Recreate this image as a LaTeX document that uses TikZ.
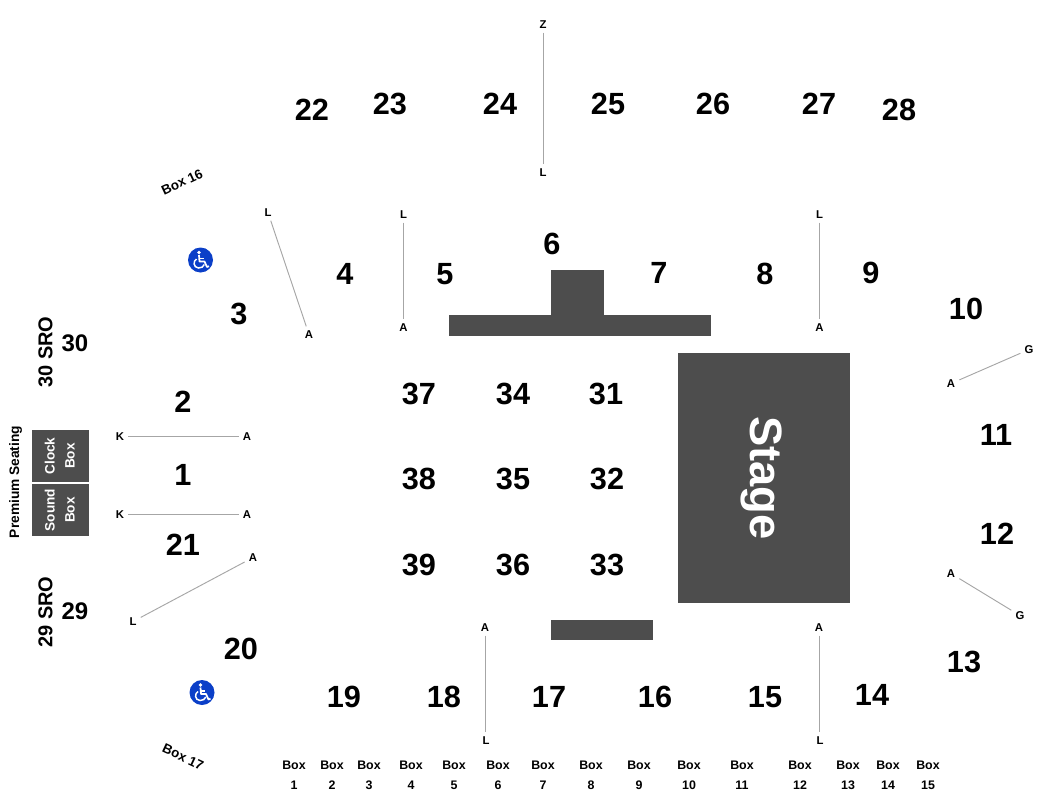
\documentclass[tikz,border=0pt]{standalone}
\usepackage{fontspec}
\setmainfont{Liberation Sans}
\begin{document}
\begin{tikzpicture}[x=0.75pt,y=-0.75pt,
sec/.style={font=\fontsize{23}{23}\selectfont\bfseries,inner sep=0pt},
row/.style={font=\fontsize{8.5}{9}\selectfont\bfseries,inner sep=3pt,yshift=-0.4pt},
boxlbl/.style={font=\fontsize{9.3}{14.8}\selectfont\bfseries,align=center,inner sep=0pt},
sro/.style={font=\fontsize{15}{15}\selectfont\bfseries,rotate=90,inner sep=0pt},
block/.style={draw=none,fill=blockgray,rectangle,inner sep=0pt},
boxtxt/.style={font=\fontsize{10.2}{15}\selectfont\bfseries,text=white,align=center,rotate=90,inner sep=0pt},
aisle/.style={draw=aislegray,line width=0.7pt},
wheel/.pic={
	\fill[wheelblue] (0,0) circle[radius=12.5];
	\fill[white] (-1.5,-7.5) circle[radius=1.9];
	\draw[white,line width=1.3pt,line join=round] (-1.5,-5) -- (-1,1.5) -- (4,1.5) -- (6.5,7) -- (8.5,6.2);
	\draw[white,line width=1.1pt] (-1.3,-1.5) -- (3.2,-1.5);
	\draw[white,line width=1.1pt] (-4,-1) .. controls (-7.5,1) and (-7.5,7.5) .. (-2,8) .. controls (1,8.2) and (3,6.5) .. (3.8,4.5);
}]
	\definecolor{blockgray}{HTML}{4D4D4D}
	\definecolor{aislegray}{HTML}{A6A6A6}
	\definecolor{wheelblue}{HTML}{0B3FC8}
	\useasboundingbox (0,0) rectangle (1050,810);
	
	% stage and risers
	\node[block,minimum width=129pt,minimum height=187.5pt] at (764,478) (stage) {};
	\node[rotate=-90,text=white,font=\fontsize{34}{36}\selectfont\bfseries] at ([xshift=-1.5pt]stage.center) (stagetxt) {Stage};
	\node[block,minimum width=196.5pt,minimum height=15.75pt] at (580,325.5) (bar1) {};
	\node[block,minimum width=39.75pt,minimum height=33.75pt] at (577.5,292.5) (bar2) {};
	\node[block,minimum width=76.5pt,minimum height=15pt] at (602,630) (bar3) {};
	
	% boxes on the left
	\node[block,minimum width=42.75pt,minimum height=39pt] at (60.5,456) (clock) {};
	\node[block,minimum width=42.75pt,minimum height=39pt] at (60.5,510) (sound) {};
	\node[boxtxt] at ([xshift=-0.6pt]clock.center) (clocktxt) {Clock\\Box};
	\node[boxtxt] at ([xshift=-0.6pt]sound.center) (soundtxt) {Sound\\Box};
	\node[rotate=90,font=\fontsize{10.3}{11}\selectfont\bfseries,inner sep=0pt] at (15.5,482) (premium) {Premium Seating};
	\node[sro] at (45.5,352) (sro30) {30 SRO};
	\node[sro] at (45.5,612) (sro29) {29 SRO};
	\node[rotate=25,font=\fontsize{10}{11}\selectfont\bfseries,inner sep=0pt] at (182,182) (box16) {Box 16};
	\node[rotate=-25,font=\fontsize{10}{11}\selectfont\bfseries,inner sep=0pt] at (183,757) (box17) {Box 17};
	
	\pic at (200.5,260) {wheel};
	\pic at (202,692.5) {wheel};
	
	% upper sections
	\node[sec] at (312,110) (s22) {22};
	\node[sec] at (390,104) (s23) {23};
	\node[sec] at (500,104) (s24) {24};
	\node[sec] at (608,104) (s25) {25};
	\node[sec] at (713,104) (s26) {26};
	\node[sec] at (819,104) (s27) {27};
	\node[sec] at (899,110) (s28) {28};
	\node[sec] at (552,244) (s6) {6};
	\node[sec] at (345,274) (s4) {4};
	\node[sec] at (445,274) (s5) {5};
	\node[sec] at (659,273) (s7) {7};
	\node[sec] at (765,274) (s8) {8};
	\node[sec] at (871,273) (s9) {9};
	\node[sec] at (966,309) (s10) {10};
	\node[sec] at (239,314) (s3) {3};
	\node[sec] at (183,402) (s2) {2};
	\node[sec] at (183,475) (s1) {1};
	\node[sec] at (183,545) (s21) {21};
	\node[sec] at (996,435) (s11) {11};
	\node[sec] at (997,534) (s12) {12};
	\node[sec] at (964,662) (s13) {13};
	\node[sec] at (241,649) (s20) {20};
	\node[sec] at (344,697) (s19) {19};
	\node[sec] at (444,697) (s18) {18};
	\node[sec] at (549,697) (s17) {17};
	\node[sec] at (655,697) (s16) {16};
	\node[sec] at (765,697) (s15) {15};
	\node[sec] at (872,695) (s14) {14};
	\node[sec,font=\fontsize{18}{18}\selectfont\bfseries] at (75,343) (s30) {30};
	\node[sec,font=\fontsize{18}{18}\selectfont\bfseries] at (75,611) (s29) {29};
	
	% floor sections
	\node[sec] at (419,394) (s37) {37};
	\node[sec] at (513,394) (s34) {34};
	\node[sec] at (606,394) (s31) {31};
	\node[sec] at (419,479) (s38) {38};
	\node[sec] at (513,479) (s35) {35};
	\node[sec] at (607,479) (s32) {32};
	\node[sec] at (419,565) (s39) {39};
	\node[sec] at (513,565) (s36) {36};
	\node[sec] at (607,565) (s33) {33};
	
	% row letters
	\node[row] at (543,24) (rz) {Z};
	\node[row] at (543,172) (rl1) {L};
	\node[row] at (268,212) (rl2) {L};
	\node[row] at (309,334) (ra2) {A};
	\node[row] at (403.5,214) (rl3) {L};
	\node[row] at (403.5,327) (ra3) {A};
	\node[row] at (819.5,214) (rl4) {L};
	\node[row] at (819.5,327) (ra4) {A};
	\node[row] at (1029,349) (rg1) {G};
	\node[row] at (951,383) (ra5) {A};
	\node[row] at (951,573) (ra6) {A};
	\node[row] at (1020,615) (rg2) {G};
	\node[row] at (120,436) (rk1) {K};
	\node[row] at (247,436) (ra7) {A};
	\node[row] at (120,514) (rk2) {K};
	\node[row] at (247,514) (ra8) {A};
	\node[row] at (253,557) (ra9) {A};
	\node[row] at (133,621) (rl5) {L};
	\node[row] at (485,627) (ra10) {A};
	\node[row] at (486,740) (rl6) {L};
	\node[row] at (819,627) (ra11) {A};
	\node[row] at (820,740) (rl7) {L};
	
	\draw[aisle] (rz) -- (rl1);
	\draw[aisle] (rl2) -- (ra2);
	\draw[aisle] (rl3) -- (ra3);
	\draw[aisle] (rl4) -- (ra4);
	\draw[aisle] (rg1) -- (ra5);
	\draw[aisle] (ra6) -- (rg2);
	\draw[aisle] (rk1) -- (ra7);
	\draw[aisle] (rk2) -- (ra8);
	\draw[aisle] (ra9) -- (rl5);
	\draw[aisle] (ra10) -- (ra10 |- rl6.north);
	\draw[aisle] (ra11) -- (ra11 |- rl7.north);
	
	% boxes along the bottom
	\node[boxlbl] at (294,775) (b1) {Box\\1};
	\node[boxlbl] at (332,775) (b2) {Box\\2};
	\node[boxlbl] at (369,775) (b3) {Box\\3};
	\node[boxlbl] at (411,775) (b4) {Box\\4};
	\node[boxlbl] at (454,775) (b5) {Box\\5};
	\node[boxlbl] at (498,775) (b6) {Box\\6};
	\node[boxlbl] at (543,775) (b7) {Box\\7};
	\node[boxlbl] at (591,775) (b8) {Box\\8};
	\node[boxlbl] at (639,775) (b9) {Box\\9};
	\node[boxlbl] at (689,775) (b10) {Box\\10};
	\node[boxlbl] at (742,775) (b11) {Box\\11};
	\node[boxlbl] at (800,775) (b12) {Box\\12};
	\node[boxlbl] at (848,775) (b13) {Box\\13};
	\node[boxlbl] at (888,775) (b14) {Box\\14};
	\node[boxlbl] at (928,775) (b15) {Box\\15};
\end{tikzpicture}
\end{document}
